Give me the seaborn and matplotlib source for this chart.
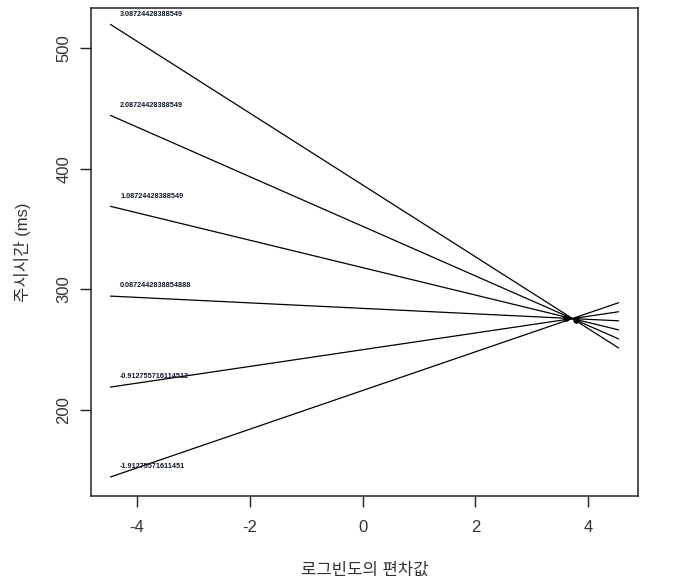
import numpy as np
import pandas as pd
import matplotlib
matplotlib.use("Agg")
import matplotlib.pyplot as plt
import seaborn as sns

# valeurs
x_range = [-4.47, 4.54]
left_vals = [520, 444.5, 369, 294.5, 219, 144.4]
right_vals = [251.5, 259, 266.5, 274, 281.5, 289]
line_labels = ["3.08724428388549", "2.08724428388549", "1.08724428388549",
               "0.0872442838854888", "-0.912755716114512", "-1.91275571611451"]
node_x = [3.6, 3.78]
node_y = [276, 275]
x_ticks = [-4, -2, 0, 2, 4]
y_ticks = [200, 300, 400, 500]

sns.set_style("white")
plt.rcParams["font.family"] = ["Liberation Sans", "Noto Sans CJK KR"]

rows = []
for i, (a, b) in enumerate(zip(left_vals, right_vals)):
    rows.append({"line": i, "x": x_range[0], "y": a})
    rows.append({"line": i, "x": x_range[1], "y": b})
df = pd.DataFrame(rows)

fig = plt.figure(figsize=(6.77, 5.83), dpi=100)
ax = fig.add_axes([0.134, 0.1492, 0.8084, 0.8371])

sns.lineplot(data=df, x="x", y="y", units="line", estimator=None,
             color="black", linewidth=0.9, ax=ax, sort=False)
sns.scatterplot(x=node_x, y=node_y, color="black", s=22, linewidth=0, ax=ax)

for lab, a in zip(line_labels, left_vals):
    ax.text(-4.30, a + 8.5, lab, fontsize=5.2, fontweight="bold",
            color="#101828", ha="left", va="center")

ax.set_xlim(-4.82, 4.885)
ax.set_ylim(128.6, 533.6)
ax.set_xticks(x_ticks)
ax.set_yticks(y_ticks)
ax.set_xticklabels([str(t) for t in x_ticks])
ax.set_yticklabels([str(t) for t in y_ticks], rotation=90, va="center")
ax.tick_params(direction="out", length=8, width=1, color="#222222",
               labelsize=12, labelcolor="#333333", bottom=True, left=True)
ax.tick_params(axis="x", pad=9)
ax.tick_params(axis="y", pad=6)
for s in ax.spines.values():
    s.set_color("#222222")
    s.set_linewidth(1.1)

ax.set_xlabel("로그빈도의 편차값", fontsize=12, color="#333333", labelpad=20)
ax.set_ylabel("주시시간 (ms)", fontsize=12, color="#333333", labelpad=18)

fig.savefig("out.png", dpi=100)
